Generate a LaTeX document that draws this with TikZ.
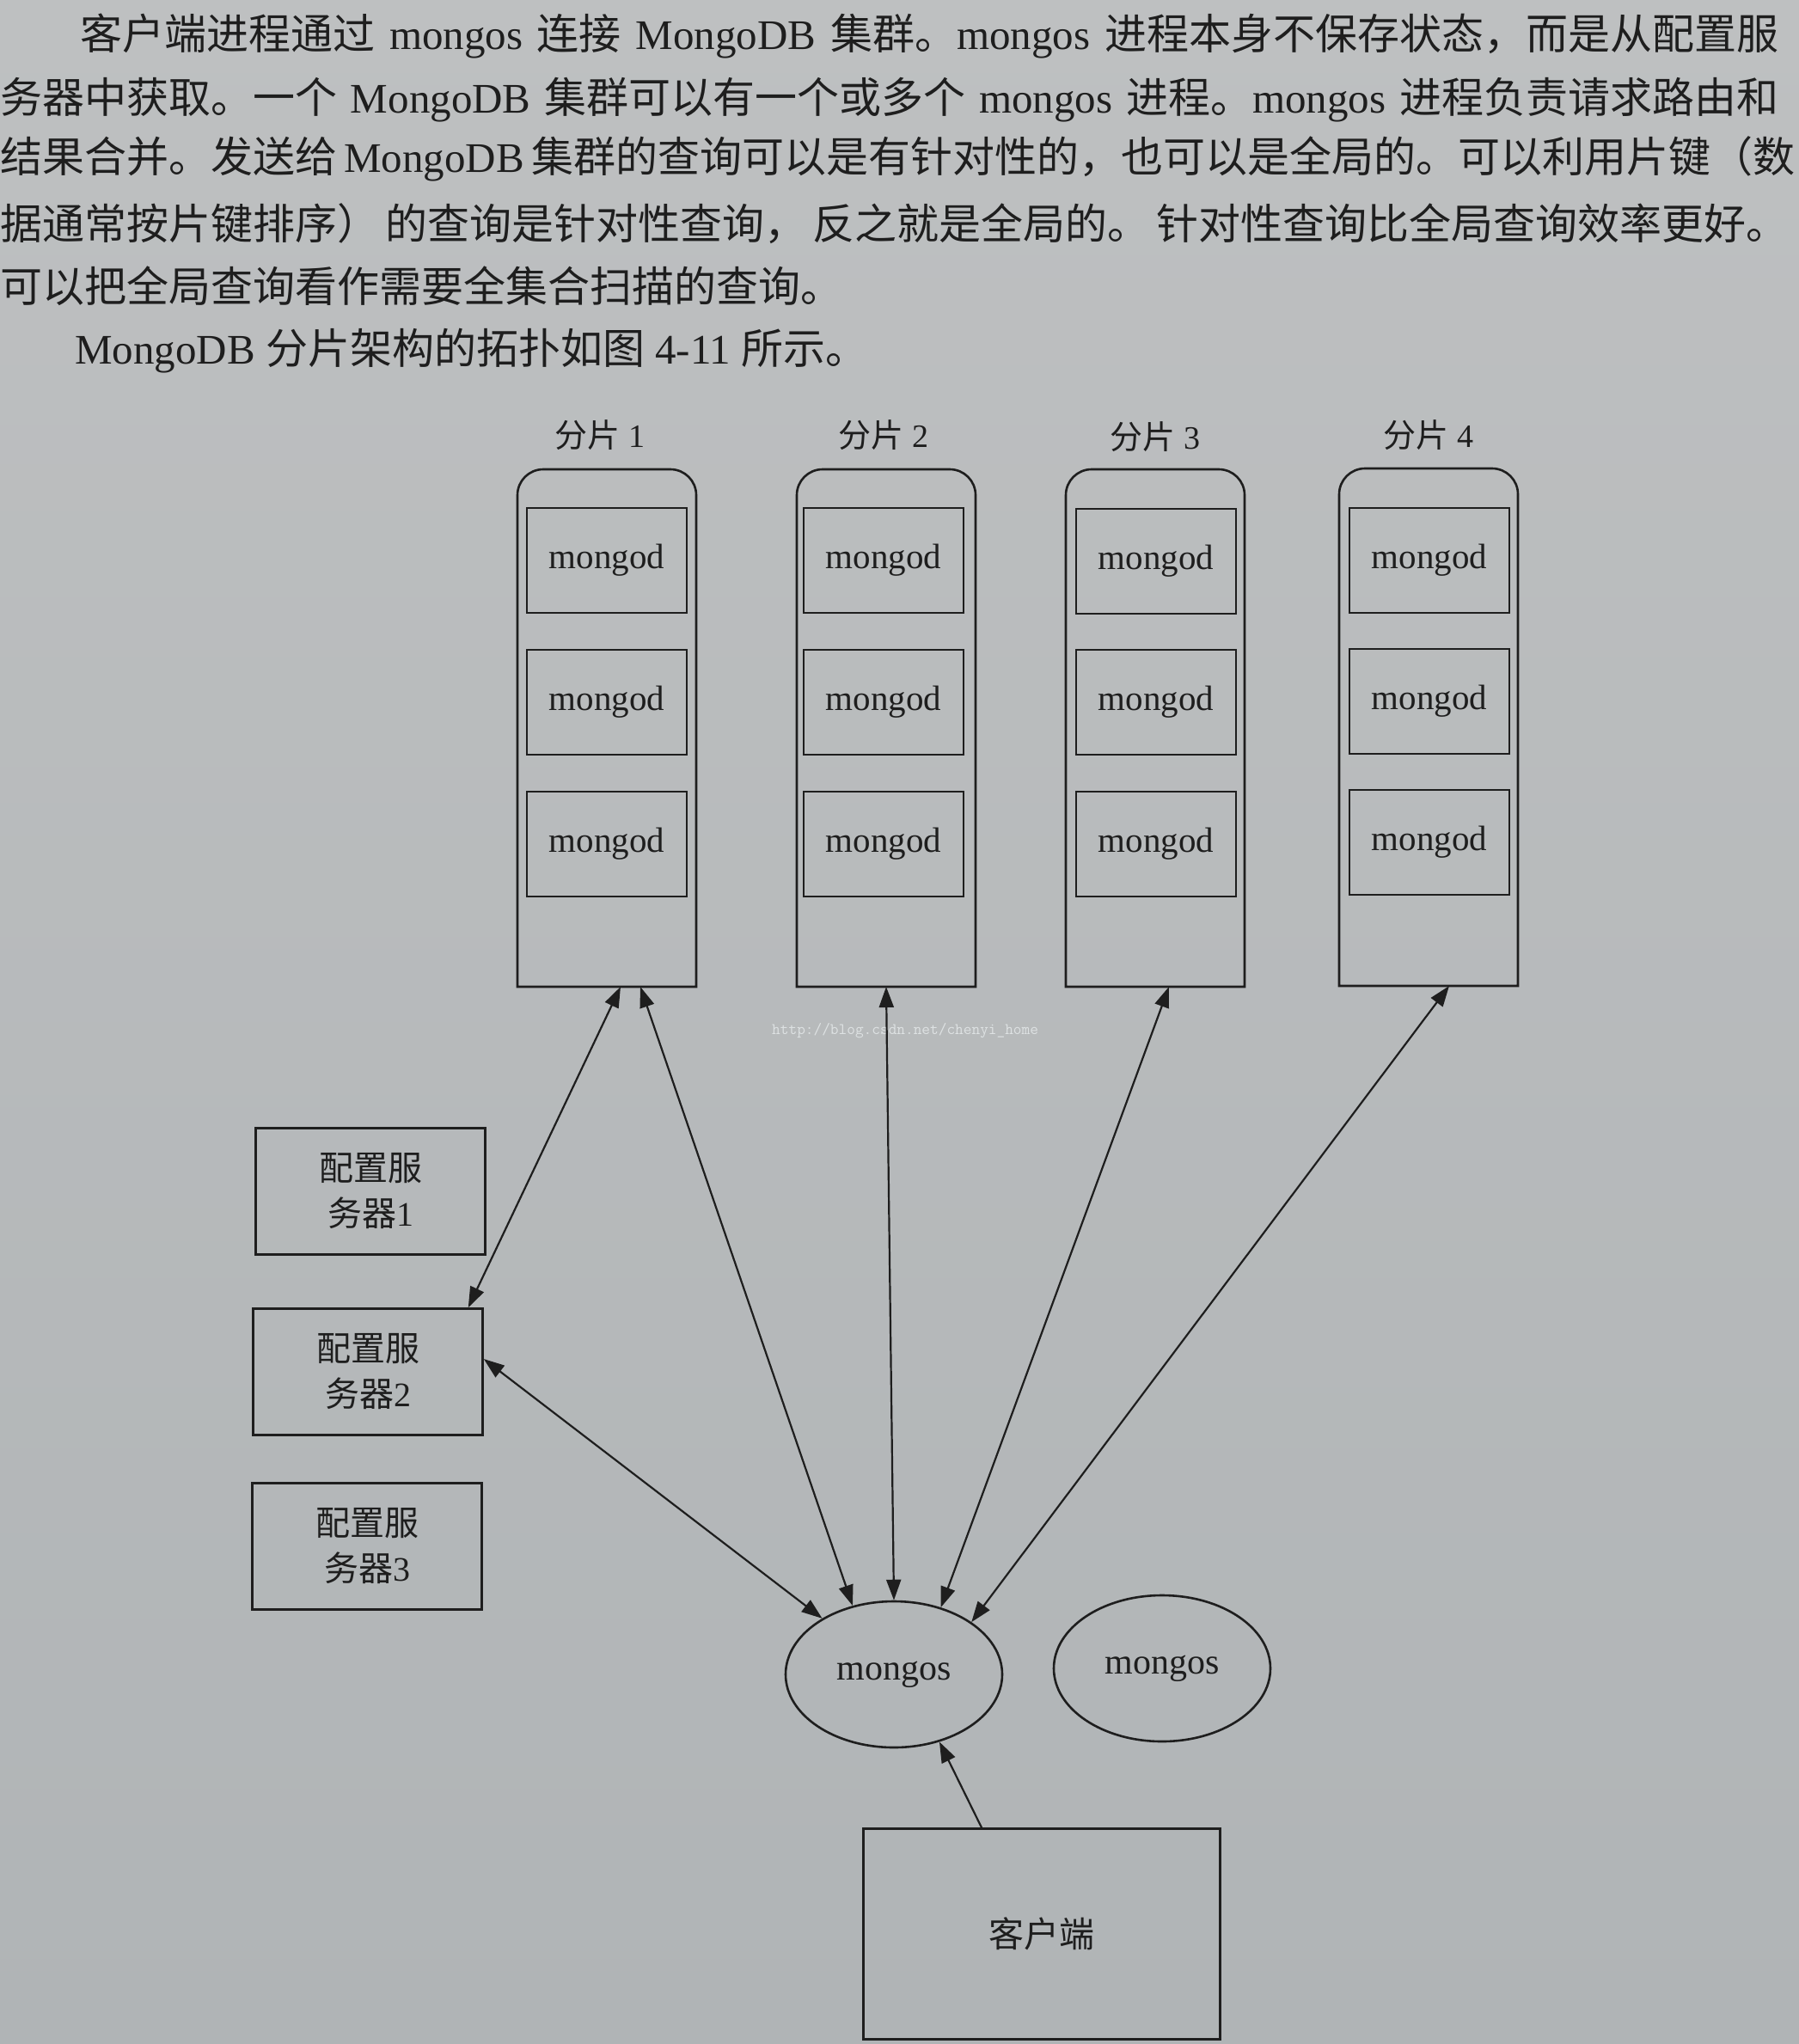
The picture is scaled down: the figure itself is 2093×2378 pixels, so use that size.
\documentclass[tikz,border=0pt]{standalone}
\usepackage{fontspec}
\setmainfont{Liberation Serif}
\newfontfamily\cjk{Noto Sans CJK SC}
\usetikzlibrary{arrows.meta,shapes.geometric,positioning}

\XeTeXlinebreaklocale "zh"
\XeTeXlinebreakskip=0pt plus 8pt minus 2pt
\newcommand{\zh}[1]{{\cjk #1}}

\definecolor{paper}{RGB}{176,180,182}
\definecolor{paperlight}{RGB}{190,192,193}
\definecolor{ink}{RGB}{30,30,30}
\definecolor{mark}{RGB}{222,226,227}

\begin{document}
\begin{tikzpicture}[x=1pt, y=-1pt,
    bodytext/.style={anchor=west, inner sep=0pt, text=ink,
        font=\fontsize{49}{60}\selectfont},
    shard/.style={rectangle, inner sep=0pt, outer sep=0pt,
        minimum width=208pt, minimum height=602pt},
    outline/.style={draw=ink, line width=2.6pt},
    mongod/.style={rectangle, draw=ink, line width=2.6pt, text=ink,
        minimum width=186pt, minimum height=122pt, font=\fontsize{41}{50}\selectfont},
    shardlabel/.style={text=ink, font=\fontsize{38}{46}\selectfont},
    cfg/.style={rectangle, draw=ink, line width=2.6pt, text=ink, align=center,
        minimum width=267pt, minimum height=147pt, font=\fontsize{40}{53}\selectfont},
    mongos/.style={ellipse, draw=ink, line width=2.6pt, text=ink, inner sep=0pt,
        minimum width=252pt, minimum height=170pt, font=\fontsize{42}{50}\selectfont},
    client/.style={rectangle, draw=ink, line width=2.6pt, text=ink,
        minimum width=415pt, minimum height=245pt, font=\fontsize{41}{50}\selectfont},
    arrowline/.style={draw=ink, line width=2.2pt, >={Triangle[length=24pt,width=17pt]}}
]
    \useasboundingbox (0,0) rectangle (2093,2378);
    \shade[top color=paperlight, bottom color=paper] (0,0) rectangle (2093,2378);

    % text above the figure
    \node[bodytext] (p1) at (93,42) {\makebox[1976pt][s]{\zh{客户端进程通过} mongos \zh{连接} MongoDB \zh{集群。}mongos \zh{进程本身不保存状态，而是从配置服}}};
    \node[bodytext] (p2) at (0,116) {\makebox[2069pt][s]{\zh{务器中获取。一个} MongoDB \zh{集群可以有一个或多个} mongos \zh{进程。}mongos \zh{进程负责请求路由和}}};
    \node[bodytext] (p3) at (0,185) {\makebox[2069pt][s]{\zh{结果合并。发送给} MongoDB \zh{集群的查询可以是有针对性的，也可以是全局的。可以利用片键（数}}};
    \node[bodytext] (p4) at (0,260) {\makebox[2080pt][s]{\zh{据通常按片键排序）}\hfill\zh{的查询是针对性查询，}\hfill\zh{反之就是全局的。}\hfill\zh{针对性查询比全局查询效率更好。}}};
    \node[bodytext] (p5) at (0,333) {\zh{可以把全局查询看作需要全集合扫描的查询。}};
    \node[bodytext] (p6) at (87,408) {MongoDB \zh{分片架构的拓扑如图} 4-11 \zh{所示。}};

    % shards
    \node[shard] (sh1) at (706,847) {};
    \node[shard] (sh2) at (1031,847) {};
    \node[shard] (sh3) at (1344,847) {};
    \node[shard] (sh4) at (1662,846) {};
    \draw[outline] (sh1.south west) [rounded corners=30pt] -- (sh1.north west) -- (sh1.north east) [sharp corners] -- (sh1.south east) -- cycle;
    \draw[outline] (sh2.south west) [rounded corners=30pt] -- (sh2.north west) -- (sh2.north east) [sharp corners] -- (sh2.south east) -- cycle;
    \draw[outline] (sh3.south west) [rounded corners=30pt] -- (sh3.north west) -- (sh3.north east) [sharp corners] -- (sh3.south east) -- cycle;
    \draw[outline] (sh4.south west) [rounded corners=30pt] -- (sh4.north west) -- (sh4.north east) [sharp corners] -- (sh4.south east) -- cycle;

    \node[shardlabel] (t1) at (698,506) {\zh{分片} 1};
    \node[shardlabel] (t2) at (1028,506) {\zh{分片} 2};
    \node[shardlabel] (t3) at (1344,508) {\zh{分片} 3};
    \node[shardlabel] (t4) at (1662,506) {\zh{分片} 4};

    \node[mongod] (m11) at (706,652) {mongod};
    \node[mongod] (m12) at (706,817) {mongod};
    \node[mongod] (m13) at (706,982) {mongod};
    \node[mongod] (m21) at (1028,652) {mongod};
    \node[mongod] (m22) at (1028,817) {mongod};
    \node[mongod] (m23) at (1028,982) {mongod};
    \node[mongod] (m31) at (1345,653) {mongod};
    \node[mongod] (m32) at (1345,817) {mongod};
    \node[mongod] (m33) at (1345,982) {mongod};
    \node[mongod] (m41) at (1663,652) {mongod};
    \node[mongod] (m42) at (1663,816) {mongod};
    \node[mongod] (m43) at (1663,980) {mongod};

    % config servers, routers, client
    \node[cfg] (cfg1) at (431,1386) {\zh{配置服}\\\zh{务器}1};
    \node[cfg] (cfg2) at (428,1596) {\zh{配置服}\\\zh{务器}2};
    \node[cfg] (cfg3) at (427,1799) {\zh{配置服}\\\zh{务器}3};
    \node[mongos] (ms1) at (1040,1948) {mongos};
    \node[mongos] (ms2) at (1352,1941) {mongos};
    \node[client] (cl) at (1212,2250) {\zh{客户端}};

    \node[anchor=west, inner sep=0pt, text=mark, font=\ttfamily\fontsize{18.8}{20}\selectfont] (wm) at (898,1199) {http://blog.csdn.net/chenyi\_home};

    % links
    \draw[arrowline, <->] ([xshift=16pt]sh1.south) -- ([xshift=-18pt]cfg2.north east);
    \draw[arrowline, <->] ([xshift=39pt]sh1.south) -- (ms1.121);
    \draw[arrowline, <->] (sh2.south) -- (ms1.90);
    \draw[arrowline, <->] ([xshift=16pt]sh3.south) -- (ms1.55);
    \draw[arrowline, <->] ([xshift=24pt]sh4.south) -- (ms1.34);
    \draw[arrowline, <->] ([yshift=15pt]cfg2.east) -- (ms1.142);
    \draw[arrowline, ->] ([xshift=-70pt]cl.north) -- (ms1.304);
\end{tikzpicture}
\end{document}
